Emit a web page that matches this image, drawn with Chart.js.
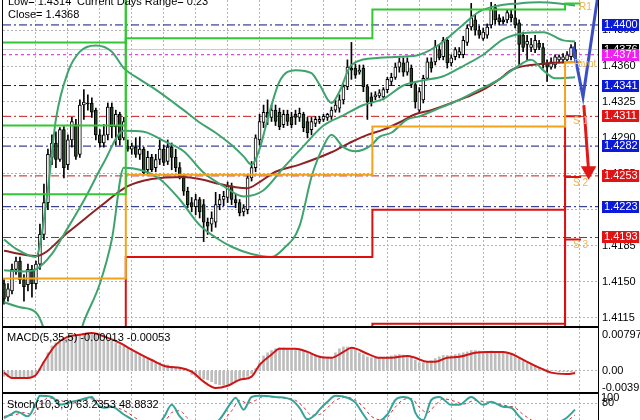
<!DOCTYPE html>
<html>
<head>
<meta charset="utf-8">
<script src="https://cdn.jsdelivr.net/npm/chart.js@4.4.1/dist/chart.umd.min.js"></script>
<style>
  html, body { margin: 0; padding: 0; background: #fff; width: 640px; height: 420px; overflow: hidden; }
  .pane { position: absolute; left: 0; width: 640px; }
  #p1 { top: 0; height: 327px; }
  #p2 { top: 327px; height: 67px; }
  #p3 { top: 390px; height: 50px; }
</style>
</head>
<body>
<div class="pane" id="p1"><canvas id="mainChart"></canvas></div>
<div class="pane" id="p2"><canvas id="macdChart"></canvas></div>
<div class="pane" id="p3"><canvas id="stochChart"></canvas></div>
<script>
// candles (one per bar, left to right)
const candleOpen = [1.4148,1.4135,1.4141,1.4162,1.4170,1.4152,1.4147,1.4162,1.4148,1.4167,
  1.4196,1.4227,1.4271,1.4285,1.4269,1.4298,1.4264,1.4288,1.4303,1.4274,
  1.4322,1.4324,1.4324,1.4317,1.4293,1.4285,1.4293,1.4320,1.4301,1.4313,
  1.4290,1.4282,1.4279,1.4281,1.4274,1.4279,1.4259,1.4271,1.4261,1.4269,
  1.4279,1.4267,1.4281,1.4271,1.4261,1.4251,1.4238,1.4227,1.4223,1.4230,
  1.4225,1.4208,1.4206,1.4208,1.4225,1.4230,1.4232,1.4243,1.4230,1.4227,
  1.4218,1.4220,1.4251,1.4261,1.4288,1.4305,1.4315,1.4310,1.4317,1.4315,
  1.4303,1.4313,1.4310,1.4313,1.4310,1.4313,1.4306,1.4298,1.4304,1.4306,
  1.4308,1.4310,1.4311,1.4317,1.4319,1.4327,1.4340,1.4358,1.4358,1.4354,
  1.4358,1.4340,1.4330,1.4330,1.4331,1.4330,1.4337,1.4345,1.4349,1.4359,
  1.4363,1.4354,1.4358,1.4342,1.4317,1.4327,1.4348,1.4364,1.4364,1.4376,
  1.4369,1.4385,1.4363,1.4369,1.4371,1.4371,1.4383,1.4398,1.4405,1.4395,
  1.4387,1.4390,1.4400,1.4417,1.4407,1.4405,1.4405,1.4410,1.4407,1.4402,
  1.4390,1.4381,1.4378,1.4376,1.4382,1.4378,1.4363,1.4359,1.4361,1.4366,
  1.4366,1.4366,1.4369,1.4376];
const candleHigh = [1.4152,1.4148,1.4167,1.4174,1.4174,1.4157,1.4167,1.4166,1.4170,1.4206,
  1.4245,1.4279,1.4293,1.4296,1.4300,1.4301,1.4293,1.4310,1.4308,1.4327,
  1.4337,1.4332,1.4329,1.4319,1.4298,1.4303,1.4324,1.4324,1.4317,1.4315,
  1.4310,1.4288,1.4285,1.4290,1.4291,1.4281,1.4277,1.4274,1.4274,1.4288,
  1.4283,1.4288,1.4285,1.4279,1.4266,1.4254,1.4242,1.4232,1.4235,1.4232,
  1.4230,1.4212,1.4218,1.4237,1.4235,1.4238,1.4247,1.4246,1.4235,1.4230,
  1.4225,1.4254,1.4267,1.4293,1.4313,1.4322,1.4327,1.4322,1.4322,1.4319,
  1.4317,1.4317,1.4315,1.4317,1.4319,1.4315,1.4310,1.4310,1.4311,1.4311,
  1.4313,1.4314,1.4320,1.4327,1.4332,1.4342,1.4366,1.4383,1.4362,1.4361,
  1.4361,1.4342,1.4334,1.4335,1.4337,1.4339,1.4349,1.4353,1.4363,1.4368,
  1.4368,1.4368,1.4361,1.4345,1.4339,1.4351,1.4368,1.4368,1.4385,1.4381,
  1.4388,1.4388,1.4371,1.4378,1.4378,1.4389,1.4400,1.4421,1.4410,1.4399,
  1.4397,1.4401,1.4422,1.4420,1.4410,1.4408,1.4415,1.4415,1.4424,1.4405,
  1.4393,1.4390,1.4387,1.4390,1.4385,1.4382,1.4366,1.4368,1.4371,1.4371,
  1.4372,1.4374,1.4381,1.4383];
const candleLow = [1.4128,1.4131,1.4138,1.4157,1.4148,1.4131,1.4141,1.4135,1.4143,1.4162,
  1.4191,1.4220,1.4264,1.4261,1.4267,1.4251,1.4259,1.4281,1.4269,1.4271,
  1.4308,1.4317,1.4310,1.4288,1.4281,1.4281,1.4288,1.4290,1.4283,1.4283,
  1.4288,1.4277,1.4274,1.4271,1.4269,1.4254,1.4254,1.4257,1.4257,1.4264,
  1.4263,1.4264,1.4259,1.4257,1.4250,1.4234,1.4222,1.4218,1.4215,1.4212,
  1.4189,1.4196,1.4199,1.4203,1.4220,1.4224,1.4227,1.4225,1.4222,1.4214,
  1.4214,1.4216,1.4248,1.4257,1.4283,1.4300,1.4303,1.4306,1.4302,1.4298,
  1.4300,1.4302,1.4300,1.4303,1.4306,1.4296,1.4290,1.4293,1.4301,1.4304,
  1.4306,1.4307,1.4308,1.4315,1.4315,1.4323,1.4337,1.4347,1.4348,1.4352,
  1.4335,1.4308,1.4321,1.4327,1.4329,1.4327,1.4334,1.4341,1.4347,1.4354,
  1.4350,1.4351,1.4339,1.4319,1.4314,1.4324,1.4347,1.4354,1.4361,1.4366,
  1.4366,1.4358,1.4360,1.4366,1.4368,1.4368,1.4380,1.4395,1.4390,1.4387,
  1.4385,1.4387,1.4397,1.4401,1.4400,1.4401,1.4402,1.4403,1.4397,1.4361,
  1.4374,1.4366,1.4374,1.4373,1.4376,1.4358,1.4345,1.4357,1.4358,1.4363,
  1.4363,1.4364,1.4366,1.4365];
const candleClose = [1.4133,1.4143,1.4162,1.4170,1.4152,1.4145,1.4162,1.4148,1.4167,1.4196,
  1.4227,1.4274,1.4285,1.4269,1.4298,1.4261,1.4288,1.4306,1.4272,1.4322,
  1.4325,1.4323,1.4315,1.4293,1.4285,1.4293,1.4320,1.4301,1.4313,1.4288,
  1.4306,1.4279,1.4282,1.4274,1.4279,1.4256,1.4271,1.4259,1.4269,1.4279,
  1.4266,1.4281,1.4271,1.4261,1.4251,1.4238,1.4225,1.4223,1.4230,1.4218,
  1.4208,1.4204,1.4212,1.4225,1.4230,1.4233,1.4243,1.4230,1.4227,1.4217,
  1.4222,1.4251,1.4261,1.4290,1.4306,1.4315,1.4310,1.4317,1.4306,1.4301,
  1.4313,1.4306,1.4303,1.4310,1.4314,1.4300,1.4295,1.4306,1.4308,1.4308,
  1.4311,1.4313,1.4317,1.4322,1.4327,1.4340,1.4359,1.4356,1.4351,1.4356,
  1.4340,1.4325,1.4325,1.4332,1.4334,1.4337,1.4347,1.4349,1.4359,1.4364,
  1.4354,1.4364,1.4342,1.4325,1.4335,1.4348,1.4364,1.4358,1.4379,1.4368,
  1.4385,1.4363,1.4368,1.4376,1.4374,1.4385,1.4397,1.4407,1.4395,1.4390,
  1.4393,1.4398,1.4415,1.4405,1.4403,1.4403,1.4412,1.4407,1.4400,1.4381,
  1.4378,1.4384,1.4381,1.4385,1.4378,1.4361,1.4359,1.4364,1.4369,1.4369,
  1.4369,1.4371,1.4378,1.4368];

// indicator lines as [bar, value]
const bbUpper = [[0,1.4191],[3,1.4182],[8,1.4174],[9,1.4186],[11,1.4240],[13,1.4308],[16,1.4354],[19,1.4374],
  [23,1.4380],[27,1.4374],[30,1.4358],[34,1.4347],[38,1.4337],[45,1.4317],[49,1.4305],[53,1.4295],
  [57,1.4283],[60,1.4272],[62,1.4264],[64,1.4279],[66,1.4308],[69,1.4345],[73,1.4356],[77,1.4353],
  [79,1.4342],[82,1.4324],[84,1.4335],[87,1.4361],[94,1.4368],[99,1.4369],[104,1.4371],[109,1.4381],
  [114,1.4397],[119,1.4413],[124,1.4419],[129,1.4421],[134,1.4422],[139,1.4421],[143,1.4419]];
const bbMiddle = [[0,1.4161],[5,1.4160],[8,1.4162],[12,1.4177],[15,1.4196],[20,1.4229],[25,1.4266],[30,1.4297],
  [35,1.4296],[40,1.4287],[45,1.4277],[50,1.4256],[55,1.4243],[60,1.4233],[65,1.4239],[70,1.4261],
  [75,1.4282],[80,1.4302],[85,1.4312],[90,1.4322],[95,1.4328],[100,1.4341],[105,1.4346],[110,1.4350],
  [115,1.4360],[120,1.4371],[125,1.4386],[130,1.4392],[135,1.4393],[140,1.4385],[143,1.4384]];
const bbLower = [[0,1.4130],[4,1.4125],[8,1.4120],[10,1.4104],[12,1.4075],[17,1.4075],[20,1.4111],[24,1.4148],
  [27,1.4191],[30,1.4261],[34,1.4259],[39,1.4250],[44,1.4230],[49,1.4205],[53,1.4193],[57,1.4184],
  [62,1.4177],[67,1.4174],[70,1.4182],[74,1.4204],[77,1.4252],[80,1.4282],[82,1.4293],[85,1.4281],
  [88,1.4277],[92,1.4283],[94,1.4291],[97,1.4295],[101,1.4308],[104,1.4311],[109,1.4319],[114,1.4327],
  [119,1.4337],[124,1.4347],[128,1.4358],[132,1.4366],[135,1.4356],[138,1.4348],[143,1.4349]];
const maSlow = [[0,1.4180],[8,1.4175],[16,1.4198],[24,1.4223],[31,1.4243],[37,1.4250],[45,1.4252],[49,1.4250],
  [54,1.4245],[58,1.4242],[61,1.4241],[64,1.4247],[68,1.4257],[74,1.4264],[82,1.4276],[87,1.4286],
  [91,1.4293],[95,1.4298],[99,1.4305],[103,1.4313],[107,1.4317],[112,1.4324],[116,1.4330],[120,1.4337],
  [124,1.4347],[127,1.4356],[129,1.4359],[132,1.4361],[137,1.4363],[143,1.4364]];

// daily pivot levels, one value per day
const dayStart = [-0.25, 30.5, 92.25, 140.5];
const dayEnd = [30.5, 92.25, 140.5, 144.5];
const r3Levels = [1.4383, 1.4520, 1.4540, 1.4560];
const r2Levels = [1.4302, 1.4460, 1.4480, 1.4500];
const r1Levels = [1.4235, 1.4387, 1.4415, 1.4421];
const pivotLevels = [1.4153, 1.4254, 1.4301, 1.4364];
const s1Levels = [1.4080, 1.4174, 1.4220, 1.4311];
const s2Levels = [1.4040, 1.4090, 1.4109, 1.4252];
const s3Levels = [1.4000, 1.4050, 1.4060, 1.4191];

// horizontal guide levels and price axis ticks
const navyLevels = [1.4400, 1.4341, 1.4282, 1.4223];
const redLevels = [1.4311, 1.4253, 1.4193];
const magentaLevels = [1.4371];
const bidLevel = 1.4376;
const priceTicks = [1.4115, 1.4150, 1.4185, 1.4220, 1.4255, 1.4290, 1.4325, 1.4360, 1.4395];

// forecast arrows
const blueArrow = [[142.5, 1.4379], [145, 1.4330], [149, 1.4436]];
const redArrow = [[145.2, 1.4322], [146.4, 1.4258]];

// MACD (5,35,5)
const macdHist = [-0.0012,-0.0013,-0.0014,-0.0014,-0.0014,-0.0014,-0.0013,-0.0012,-0.0006,0.0006,
  0.0020,0.0040,0.0055,0.0062,0.0068,0.0073,0.0076,0.0078,0.0078,0.0080,
  0.0082,0.0083,0.0082,0.0080,0.0076,0.0070,0.0068,0.0066,0.0062,0.0058,
  0.0055,0.0050,0.0045,0.0040,0.0036,0.0030,0.0026,0.0024,0.0021,0.0018,
  0.0015,0.0013,0.0010,0.0008,0.0006,0.0003,0.0000,-0.0008,-0.0012,-0.0015,
  -0.0018,-0.0020,-0.0024,-0.0029,-0.0031,-0.0032,-0.0031,-0.0029,-0.0025,-0.0020,
  -0.0016,-0.0012,-0.0006,0.0005,0.0018,0.0033,0.0040,0.0045,0.0049,0.0051,
  0.0051,0.0050,0.0049,0.0047,0.0046,0.0044,0.0040,0.0038,0.0036,0.0033,
  0.0030,0.0029,0.0030,0.0040,0.0049,0.0053,0.0053,0.0052,0.0047,0.0040,
  0.0036,0.0031,0.0029,0.0028,0.0028,0.0029,0.0031,0.0033,0.0035,0.0036,
  0.0035,0.0034,0.0031,0.0024,0.0018,0.0018,0.0020,0.0022,0.0027,0.0031,
  0.0034,0.0034,0.0034,0.0036,0.0038,0.0040,0.0042,0.0045,0.0045,0.0044,
  0.0043,0.0042,0.0044,0.0043,0.0041,0.0040,0.0039,0.0037,0.0033,0.0027,
  0.0021,0.0017,0.0014,0.0011,0.0008,0.0005,0.0003,0.0001,0.0000,-0.0002,
  -0.0002,-0.0002,-0.0002,-0.0001];
const macdSignal = [[0,-0.0004],[2,-0.0016],[6,-0.0016],[8,-0.0009],[10,0.0020],[13,0.0058],[16,0.0076],[19,0.0080],
  [22,0.0084],[26,0.0073],[29,0.0062],[32,0.0047],[37,0.0024],[41,0.0009],[44,0.0007],[47,-0.0002],
  [50,-0.0024],[53,-0.0038],[56,-0.0033],[59,-0.0020],[62,-0.0013],[64,0.0013],[67,0.0036],[69,0.0049],
  [73,0.0049],[76,0.0042],[79,0.0031],[82,0.0029],[85,0.0042],[87,0.0051],[91,0.0038],[94,0.0029],
  [97,0.0029],[101,0.0033],[103,0.0029],[106,0.0020],[108,0.0020],[111,0.0029],[114,0.0031],[118,0.0040],
  [121,0.0042],[125,0.0042],[127,0.0038],[131,0.0020],[134,0.0007],[137,-0.0004],[141,-0.0007],[143,-0.0005]];
const macdTicks = [0.00797, 0, -0.0039];
const macdTickText = ['0.00797', '0.00', '-0.0039'];

// Stochastic (10,3,3)
const stochMain = [[0,40],[2,52],[3,58],[4,55],[6,45],[8,80],[9,100],[12,97],[14,76],[17,84],[19,89],[22,97],
  [23,82],[25,68],[27,71],[30,50],[32,37],[34,20],[38,20],[40,42],[42,76],[44,45],[46,25],[50,10],
  [54,37],[57,84],[58,95],[60,63],[62,97],[64,100],[68,97],[72,89],[74,68],[76,37],[78,50],[79,63],
  [81,84],[83,100],[86,95],[88,82],[90,50],[92,25],[96,50],[98,89],[100,97],[102,89],[103,55],[105,35],
  [107,89],[109,97],[112,76],[114,76],[117,97],[120,76],[122,84],[125,71],[127,68],[129,45],[131,25],
  [136,15],[140,35],[141,42],[143,63]];
const stochSignal = [[0,45],[3,50],[5,55],[7,50],[9,72],[11,95],[14,88],[17,80],[19,86],[22,92],[24,85],[26,75],
  [28,70],[31,55],[33,40],[36,25],[40,30],[42,55],[44,60],[46,40],[50,18],[54,25],[57,60],[59,88],
  [61,80],[63,88],[65,98],[69,95],[73,88],[75,70],[77,48],[79,50],[81,68],[83,88],[86,96],[88,88],
  [90,70],[92,45],[95,35],[98,70],[100,90],[102,93],[104,70],[106,55],[108,75],[110,92],[113,85],
  [115,78],[118,88],[120,85],[123,80],[126,73],[128,68],[130,50],[133,30],[137,20],[141,33],[143,49]];
const stochTicks = [80];
const stochTop = 100;

const FONT = "'Liberation Sans', Arial, sans-serif";
const xMin = -0.25, xMax = 148.75;
const gridIdx = [];
for (let g = 8; g <= 144; g += 8) gridIdx.push(g);

function pts(pairs) { return pairs.map(p => ({x: p[0], y: p[1]})); }
function levelPath(levels) {
  const out = [];
  levels.forEach((v, d) => { out.push({x: dayStart[d], y: v}); out.push({x: dayEnd[d], y: v}); });
  return out;
}
function flat(v) { return [{x: xMin, y: v}, {x: xMax, y: v}]; }
function line(data, color, width, extra) {
  return Object.assign({type: 'line', data: data, borderColor: color, borderWidth: width,
    pointRadius: 0, fill: false, tension: 0, order: 5}, extra || {});
}

const idx = candleOpen.map((_, i) => i);
const wickData = idx.map(i => ({x: i, y: [candleLow[i], candleHigh[i]]}));
const bodyData = idx.map(i => ({x: i, y: [candleOpen[i], candleClose[i]]}));
const bodyColors = idx.map(i => candleClose[i] >= candleOpen[i] ? '#ffffff' : '#244a24');

function xScale() {
  return {
    type: 'linear', min: xMin, max: xMax, offset: false,
    afterBuildTicks: s => { s.ticks = gridIdx.map(v => ({value: v})); },
    ticks: {display: false},
    grid: {color: '#b4b4b4', drawTicks: false, offset: false},
    border: {display: false, dash: [2, 2]},
    afterFit: s => { s.height = 0; s.paddingLeft = 0; s.paddingRight = 0; }
  };
}

const framePlugin = {
  id: 'frame',
  afterDraw(chart) {
    const a = chart.chartArea, ctx = chart.ctx;
    ctx.save();
    ctx.strokeStyle = '#000';
    ctx.lineWidth = 1;
    ctx.strokeRect(Math.round(a.left) - 0.5, Math.round(a.top) - 0.5,
      Math.round(a.right - a.left) + 1, Math.round(a.bottom - a.top) + 1);
    ctx.restore();
  }
};

const mainLabels = {
  id: 'mainLabels',
  afterDraw(chart) {
    const ctx = chart.ctx, a = chart.chartArea;
    const ys = chart.scales.y, xs = chart.scales.x;
    ctx.save();
    ctx.font = '11px ' + FONT;
    ctx.fillStyle = '#000';
    ctx.textBaseline = 'middle';
    ctx.fillText('Low= 1.4314', a.left + 5, 2);
    ctx.fillText('Current Days Range= 0.23', a.left + 74, 2);
    ctx.fillText('Close= 1.4368', a.left + 5, 15);

    // pivot names of the new day
    ctx.font = '10px ' + FONT;
    ctx.fillStyle = '#e8b457';
    const lx = xs.getPixelForValue(dayStart[3]) + 8;
    ctx.fillText('R1', lx + 6, ys.getPixelForValue(r1Levels[3]) + 4);
    ctx.fillText('Pivot', lx + 1, ys.getPixelForValue(pivotLevels[3]) + 2);
    ctx.fillText('S 1', lx, ys.getPixelForValue(s1Levels[3]) + 5);
    ctx.fillText('S 2', lx, ys.getPixelForValue(s2Levels[3]) + 6);
    ctx.fillText('S 3', lx, ys.getPixelForValue(s3Levels[3]) + 6);

    // coloured price boxes on the right axis
    ctx.font = '11px ' + FONT;
    function box(v, bg) {
      const y = Math.round(ys.getPixelForValue(v));
      ctx.fillStyle = bg;
      ctx.fillRect(a.right + 4, y - 6, 37, 12);
      ctx.fillStyle = '#fff';
      ctx.fillText(v.toFixed(4), a.right + 6, y);
    }
    navyLevels.forEach(v => box(v, '#0a1ad8'));
    redLevels.forEach(v => box(v, '#e01414'));
    box(bidLevel, '#000');
    magentaLevels.forEach(v => box(v, '#f020f0'));
    ctx.restore();
  }
};

const baseOptions = (yScale, pad) => ({
  responsive: true, maintainAspectRatio: false, animation: false,
  layout: {autoPadding: false, padding: pad},
  plugins: {legend: {display: false}, tooltip: {enabled: false}},
  scales: {x: xScale(), y: yScale}
});

const mainY = {
  position: 'right', min: 1.41068, max: 1.44243,
  afterBuildTicks: s => { s.ticks = priceTicks.map(v => ({value: v})); },
  ticks: {font: {family: FONT, size: 11}, color: '#000', padding: 4, autoSkip: false,
    callback: v => v.toFixed(4)},
  grid: {color: '#b4b4b4', drawTicks: false},
  border: {display: false, dash: [2, 2]},
  afterFit: s => { s.width = 42; s.paddingTop = 0; s.paddingBottom = 0; }
};

new Chart(document.getElementById('mainChart'), {
  type: 'bar',
  data: {
    datasets: [
      line(flat(bidLevel), '#c8c8c8', 1, {order: 9}),
      line(flat(magentaLevels[0]), '#d020d0', 1, {borderDash: [3, 3], order: 8}),
      ...navyLevels.map(v => line(flat(v), '#0c1480', 1, {borderDash: [8, 3, 2, 3], order: 8})),
      ...redLevels.map(v => line(flat(v), '#c81818', 1, {borderDash: [8, 3, 2, 3], order: 8})),
      line(levelPath(r3Levels), '#33c833', 2, {order: 4}),
      line(levelPath(r2Levels), '#33c833', 2, {order: 4}),
      line(levelPath(r1Levels), '#33c833', 2, {order: 4}),
      line(levelPath(pivotLevels), '#f2a31c', 2, {order: 4}),
      line(levelPath(s1Levels), '#dd1010', 2, {order: 4}),
      line(levelPath(s2Levels), '#dd1010', 2, {order: 4}),
      line(levelPath(s3Levels), '#dd1010', 2, {order: 4}),
      {type: 'bar', data: wickData, backgroundColor: '#000', barThickness: 1, grouped: false, order: 7},
      {type: 'bar', data: bodyData, backgroundColor: bodyColors, borderColor: '#000', borderWidth: 1,
        borderSkipped: false, barThickness: 3, grouped: false, order: 6},
      line(pts(bbUpper), '#3fa36e', 2, {tension: 0.4, cubicInterpolationMode: 'monotone'}),
      line(pts(bbMiddle), '#3fa36e', 2, {tension: 0.4, cubicInterpolationMode: 'monotone'}),
      line(pts(bbLower), '#3fa36e', 2, {tension: 0.4, cubicInterpolationMode: 'monotone'}),
      line(pts(maSlow), '#8e2222', 2, {tension: 0.4, cubicInterpolationMode: 'monotone'}),
      line(pts(blueArrow), '#3a4fc4', 3, {order: 1, pointRadius: [0, 0, 6], pointStyle: 'triangle',
        pointBackgroundColor: '#3a4fc4', pointBorderColor: '#3a4fc4', pointRotation: 15}),
      line(pts(redArrow), '#e01818', 3, {order: 1, pointRadius: [0, 6], pointStyle: 'triangle',
        pointBackgroundColor: '#e01818', pointBorderColor: '#e01818', pointRotation: 180})
    ]
  },
  options: baseOptions(mainY, {left: 3, top: 0, right: 0, bottom: 1}),
  plugins: [framePlugin, mainLabels]
});

// MACD panel
const macdY = {
  position: 'right', min: -0.0047, max: 0.0095,
  afterBuildTicks: s => { s.ticks = macdTicks.map(v => ({value: v})); },
  ticks: {font: {family: FONT, size: 11}, color: '#000', padding: 4, autoSkip: false,
    callback: (v) => macdTickText[macdTicks.indexOf(v)]},
  grid: {color: ctx => ctx.tick && ctx.tick.value === 0 ? '#b4b4b4' : 'rgba(0,0,0,0)', drawTicks: false},
  border: {display: false, dash: [2, 2]},
  afterFit: s => { s.width = 42; s.paddingTop = 0; s.paddingBottom = 0; }
};
const macdTitle = {
  id: 'macdTitle',
  afterDraw(chart) {
    const ctx = chart.ctx, a = chart.chartArea;
    ctx.save();
    ctx.font = '11px ' + FONT;
    ctx.fillStyle = '#000';
    ctx.textBaseline = 'middle';
    ctx.fillText('MACD(5,35,5) -0.00013 -0.00053', a.left + 4, a.top + 10);
    ctx.restore();
  }
};
new Chart(document.getElementById('macdChart'), {
  type: 'bar',
  data: {
    datasets: [
      {type: 'bar', data: idx.map(i => ({x: i, y: macdHist[i]})), backgroundColor: '#bdbdbd',
        barThickness: 2, grouped: false, order: 6},
      line(pts(macdSignal), '#d01414', 2, {tension: 0.4, cubicInterpolationMode: 'monotone', order: 2})
    ]
  },
  options: baseOptions(macdY, {left: 3, top: 1, right: 0, bottom: 2}),
  plugins: [framePlugin, macdTitle]
});

// Stochastic panel
const stochY = {
  position: 'right', min: -5, max: 105,
  afterBuildTicks: s => { s.ticks = stochTicks.map(v => ({value: v})); },
  ticks: {font: {family: FONT, size: 11}, color: '#000', padding: 4, autoSkip: false},
  grid: {color: '#b4b4b4', drawTicks: false},
  border: {display: false, dash: [2, 2]},
  afterFit: s => { s.width = 42; s.paddingTop = 0; s.paddingBottom = 0; }
};
const stochTitle = {
  id: 'stochTitle',
  afterDraw(chart) {
    const ctx = chart.ctx, a = chart.chartArea;
    ctx.save();
    ctx.font = '11px ' + FONT;
    ctx.fillStyle = '#000';
    ctx.textBaseline = 'middle';
    ctx.fillText('Stoch(10,3,3) 63.2353 48.8832', a.left + 4, a.top + 11);
    // top value of the window, printed over the 80 level as in the terminal
    ctx.fillText(String(stochTop), a.right + 3, chart.scales.y.getPixelForValue(stochTop) + 2);
    ctx.restore();
  }
};
new Chart(document.getElementById('stochChart'), {
  type: 'line',
  data: {
    datasets: [
      line(pts(stochSignal), '#d03030', 1, {borderDash: [3, 3], tension: 0.4, cubicInterpolationMode: 'monotone', order: 3}),
      line(pts(stochMain), '#36a39a', 2, {tension: 0.4, cubicInterpolationMode: 'monotone', order: 2})
    ]
  },
  options: baseOptions(stochY, {left: 3, top: 4, right: 0, bottom: 5}),
  plugins: [framePlugin, stochTitle]
});
</script>
</body>
</html>
